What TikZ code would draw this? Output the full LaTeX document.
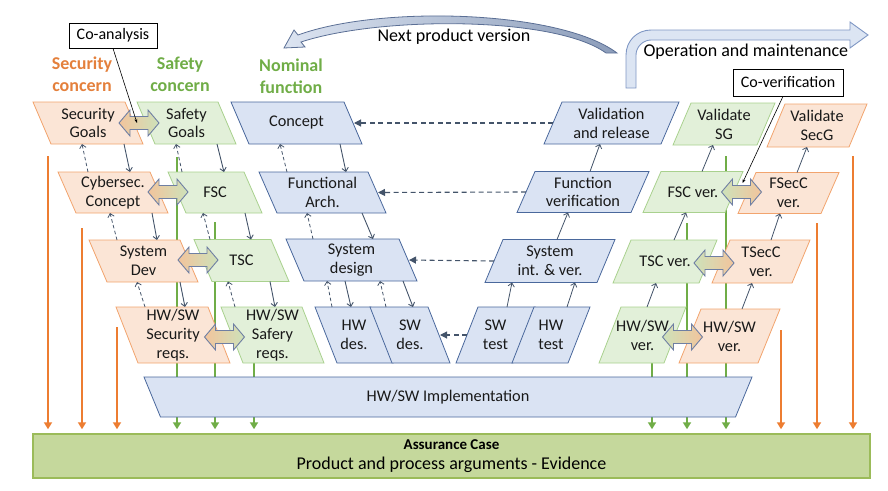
\documentclass[tikz,border=0pt]{standalone}
\usepackage{fontspec}
\setmainfont{Carlito}
\usetikzlibrary{arrows.meta,calc}

\definecolor{oFill}{HTML}{FBE5D6}
\definecolor{oLine}{HTML}{F2A46E}
\definecolor{gFill}{HTML}{E2F0D9}
\definecolor{gLine}{HTML}{A9D18E}
\definecolor{bFill}{HTML}{DAE3F3}
\definecolor{bLine}{HTML}{4A689C}
\definecolor{oDark}{HTML}{ED7D31}
\definecolor{gDark}{HTML}{70AD47}
\definecolor{oText}{HTML}{E4803C}
\definecolor{conn}{HTML}{44546A}
\definecolor{acFill}{HTML}{C5D89C}
\definecolor{acLine}{HTML}{9BBB59}
\definecolor{daLine}{HTML}{6F7FA3}
\definecolor{daO}{HTML}{F2C49C}
\definecolor{daG}{HTML}{CDE2BA}
\definecolor{npL}{HTML}{DCE4F1}
\definecolor{npR}{HTML}{8C9DBA}
\definecolor{npLine}{HTML}{5B6F95}
\definecolor{omFill}{HTML}{DCE5F3}
\definecolor{omLine}{HTML}{7F97C4}

\makeatletter
\newdimen\pgmA \newdimen\pgmB \newdimen\pgmC \newdimen\pgmD \newdimen\pgmS \newdimen\pgmF
\pgfkeys{/pgf/pgram slant/.initial=0pt, /pgf/pgram flare/.initial=0pt}
\pgfdeclareshape{pgram}{%
  \inheritsavedanchors[from=rectangle]%
  \inheritanchorborder[from=rectangle]%
  \inheritanchor[from=rectangle]{center}%
  \inheritanchor[from=rectangle]{north}%
  \inheritanchor[from=rectangle]{south}%
  \inheritanchor[from=rectangle]{east}%
  \inheritanchor[from=rectangle]{west}%
  \inheritanchor[from=rectangle]{north east}%
  \inheritanchor[from=rectangle]{north west}%
  \inheritanchor[from=rectangle]{south east}%
  \inheritanchor[from=rectangle]{south west}%
  \backgroundpath{%
    \pgfmathsetlength\pgmS{0.5*(\pgfkeysvalueof{/pgf/pgram slant})}%
    \pgfmathsetlength\pgmF{0.5*(\pgfkeysvalueof{/pgf/pgram flare})}%
    \southwest \pgmA=\pgf@x \pgmB=\pgf@y
    \northeast \pgmC=\pgf@x \pgmD=\pgf@y
    \pgfpathmoveto{\pgfqpoint{\dimexpr\pgmA-\pgmS-\pgmF\relax}{\pgmD}}%
    \pgfpathlineto{\pgfqpoint{\dimexpr\pgmC-\pgmS+\pgmF\relax}{\pgmD}}%
    \pgfpathlineto{\pgfqpoint{\dimexpr\pgmC+\pgmS-\pgmF\relax}{\pgmB}}%
    \pgfpathlineto{\pgfqpoint{\dimexpr\pgmA+\pgmS+\pgmF\relax}{\pgmB}}%
    \pgfpathclose
  }%
}
\makeatother

\tikzset{
  pgslant/.code={\pgfkeys{/pgf/pgram slant=#1}},
  pgflare/.code={\pgfkeys{/pgf/pgram flare=#1}},
  pbox/.style={shape=pgram, inner sep=1pt, outer sep=0pt, align=center,
    font=\fontsize{16.3}{18.8}\selectfont, line width=0.8pt, text=black!90},
  obox/.style={pbox, fill=oFill, draw=oLine},
  gbox/.style={pbox, fill=gFill, draw=gLine},
  bbox/.style={pbox, fill=bFill, draw=bLine},
  dsolid/.style={draw=conn, line width=0.9pt, -{Straight Barb[length=3.5pt,width=6.5pt]}},
  ddash/.style={draw=conn, line width=0.8pt, dash pattern=on 3.5pt off 2.5pt,
    -{Straight Barb[length=3.5pt,width=6.5pt]}},
  usolid/.style={draw=conn, line width=0.8pt, -{Straight Barb[length=3.5pt,width=6.5pt]}},
  hdash/.style={draw=conn, line width=1.1pt, dash pattern=on 5pt off 3.5pt,
    -{Triangle[length=7pt,width=7pt]}, shorten >=1pt},
  oarrow/.style={draw=oDark, line width=1.8pt, -{Triangle[length=7pt,width=8pt]}, shorten >=4pt},
  garrow/.style={draw=gDark, line width=1.8pt, -{Triangle[length=7pt,width=8pt]}, shorten >=4pt},
  dblarrow/.style={draw=daLine, line width=0.9pt, line join=miter},
  dlo/.style={dblarrow, left color=daO, right color=daG},
  dlg/.style={dblarrow, left color=daG, right color=daO},
  callout/.style={draw=black, fill=white, line width=0.8pt, inner sep=2pt,
    font=\fontsize{16}{18}\selectfont},
  callline/.style={draw=black, line width=0.6pt, -{Stealth[length=4pt,width=3pt]}},
  concern/.style={align=center, font=\bfseries\fontsize{18}{22}\selectfont},
  bigtext/.style={font=\fontsize{18}{21}\selectfont},
}
% double block arrow centred on a named coordinate
\newcommand\dblarr[2]{%
  \path[#2] ([xshift=-20pt]#1) -- ++(11,-13) -- ++(0,6.5) -- ++(18,0) -- ++(0,-6.5)
    -- ++(11,13) -- ++(-11,13) -- ++(0,-6.5) -- ++(-18,0) -- ++(0,6.5) -- cycle;}

\begin{document}
\begin{tikzpicture}[x=1pt, y=-1pt]
\useasboundingbox (0,0) rectangle (888,490);

% Assurance case
\node[draw=acLine, fill=acFill, line width=1.5pt, minimum width=837pt, minimum height=44pt,
  inner sep=0pt, align=center, font=\fontsize{18}{20}\selectfont] (ac) at (451.5,456)
  {{\bfseries\fontsize{15}{17}\selectfont Assurance Case}\\{\fontsize{18}{20}\selectfont Product and process arguments - Evidence}};

% long vertical arrows (behind boxes)
\coordinate (ol1) at (48,156);
\coordinate (ol2) at (82,228);
\coordinate (ol3) at (117,327);
\coordinate (or1) at (781,330);
\coordinate (or2) at (817,223);
\coordinate (or3) at (853,156);
\coordinate (gl1) at (177,157);
\coordinate (gl2) at (215,222);
\coordinate (gl3) at (254,363);
\coordinate (gr1) at (652,363);
\coordinate (gr2) at (687,223);
\coordinate (gr3) at (726,156);
\foreach \c in {ol1,ol2,ol3,or1,or2,or3}{\draw[oarrow] (\c) -- (\c |- ac.north);}
\foreach \c in {gl1,gl2,gl3,gr1,gr2,gr3}{\draw[garrow] (\c) -- (\c |- ac.north);}

% Row 1
\node[obox, pgslant=18pt, minimum width=92pt, minimum height=42pt] (secg) at (88,123) {Security\\Goals};
\node[gbox, pgslant=18pt, minimum width=81pt, minimum height=42pt] (safg) at (186.5,123) {Safety\\Goals};
\node[bbox, pgslant=18pt, minimum width=113pt, minimum height=42pt] (concept) at (296.5,123) {Concept};
\node[bbox, pgslant=-18pt, minimum width=117pt, minimum height=42pt] (valrel) at (611.5,123) {Validation\\and release};
\node[gbox, pgslant=-18pt, minimum width=84pt, minimum height=42pt] (valsg) at (724,124) {Validate\\SG};
\node[obox, pgslant=-18pt, minimum width=82pt, minimum height=43pt] (valsecg) at (817,125.5) {Validate\\SecG};

% Row 2
\node[obox, pgslant=18pt, minimum width=92pt, minimum height=41pt] (cyber) at (113,192.5) {Cybersec.\\Concept};
\node[gbox, pgslant=18pt, minimum width=76pt, minimum height=41pt] (fsc) at (215,192.5) {FSC};
\node[bbox, pgslant=18pt, minimum width=109pt, minimum height=41pt] (funarch) at (322.5,192.5) {Functional\\Arch.};
\node[bbox, pgslant=-18pt, minimum width=114pt, minimum height=41pt] (funver) at (583,192) {Function\\verification};
\node[gbox, pgslant=-18pt, minimum width=82pt, minimum height=41pt] (fscver) at (693,192) {FSC ver.};
\node[obox, pgslant=-18pt, minimum width=83pt, minimum height=41pt] (fsecver) at (788.5,193) {FSecC\\ver.};

% Row 3
\node[obox, pgslant=18pt, minimum width=91pt, minimum height=42pt] (sysdev) at (143.5,261) {System\\Dev};
\node[gbox, pgslant=18pt, minimum width=77pt, minimum height=42pt] (tsc) at (241.5,260.5) {TSC};
\node[bbox, pgslant=18pt, minimum width=113pt, minimum height=42pt] (sysdes) at (351.5,260) {System\\design};
\node[bbox, pgslant=-18pt, minimum width=112pt, minimum height=43pt] (sysint) at (550,261) {System\\int. \& ver.};
\node[gbox, pgslant=-18pt, minimum width=86pt, minimum height=43pt] (tscver) at (665,261.5) {TSC ver.};
\node[obox, pgslant=-18pt, minimum width=80pt, minimum height=43pt] (tsecver) at (761,261.5) {TSecC\\ver.};

% Row 4
\node[obox, pgslant=22pt, minimum width=92pt, minimum height=56pt] (secreq) at (173,335) {HW/SW\\Security\\reqs.};
\node[gbox, pgslant=22pt, minimum width=81pt, minimum height=56pt] (safreq) at (272.5,335) {HW/SW\\Safery\\reqs.};
\node[bbox, pgslant=22pt, minimum width=56pt, minimum height=56pt] (hwdes) at (354,335) {HW\\des.};
\node[bbox, pgslant=22pt, minimum width=58pt, minimum height=56pt] (swdes) at (410,335) {SW\\des.};
\node[bbox, pgslant=-22pt, minimum width=57pt, minimum height=56pt] (swtest) at (495.5,335) {SW\\test};
\node[bbox, pgslant=-22pt, minimum width=56pt, minimum height=56pt] (hwtest) at (551,335) {HW\\test};
\node[gbox, pgslant=-22pt, minimum width=65pt, minimum height=56pt] (hwswver) at (642.5,335) {HW/SW\\ver.};
\node[obox, pgslant=-22pt, minimum width=79pt, minimum height=54pt] (hwswver2) at (729.5,336) {HW/SW\\ver.};

% Implementation
\node[bbox, pgflare=16.5pt, minimum width=591.5pt, minimum height=40pt] (impl) at (448,397) {HW/SW Implementation};

% left hierarchy connectors
\draw[ddash] ([xshift=-25pt]cyber.north) -- ([xshift=-6pt]secg.south);
\draw[dsolid] ([xshift=36pt]secg.south) -- ([xshift=17pt]cyber.north);
\draw[ddash] ([xshift=-26.5pt]sysdev.north) -- ([xshift=-3pt]cyber.south);
\draw[dsolid] ([xshift=39pt]cyber.south) -- ([xshift=13.5pt]sysdev.north);
\draw[ddash] ([xshift=-28pt]secreq.north) -- ([xshift=-6.5pt]sysdev.south);
\draw[dsolid] ([xshift=36.5pt]sysdev.south) -- ([xshift=12pt]secreq.north);

\draw[ddash] ([xshift=-33pt]fsc.north) -- ([xshift=-10.5pt]safg.south);
\draw[dsolid] ([xshift=30.5pt]safg.south) -- ([xshift=9pt]fsc.north);
\draw[ddash] ([xshift=-31.5pt]tsc.north) -- ([xshift=-12pt]fsc.south);
\draw[dsolid] ([xshift=30pt]fsc.south) -- ([xshift=9.5pt]tsc.north);
\draw[ddash] ([xshift=-37.5pt]safreq.north) -- ([xshift=-13.5pt]tsc.south);
\draw[dsolid] ([xshift=28.5pt]tsc.south) -- ([xshift=2.5pt]safreq.north);

\draw[ddash] ([xshift=-35.5pt]funarch.north) -- ([xshift=-16.5pt]concept.south);
\draw[dsolid] ([xshift=43.5pt]concept.south) -- ([xshift=23.5pt]funarch.north);
\draw[ddash] ([xshift=-38.5pt]sysdes.north) -- ([xshift=-15.5pt]funarch.south);
\draw[dsolid] ([xshift=39.5pt]funarch.south) -- ([xshift=21.5pt]sysdes.north);
\draw[ddash] ([xshift=-22pt]hwdes.north) -- ([xshift=-24.5pt]sysdes.south);
\draw[dsolid] ([xshift=-6.5pt]sysdes.south) -- ([xshift=-3pt]hwdes.north);
\draw[ddash] ([xshift=-24pt]swdes.north) -- ([xshift=28.5pt]sysdes.south);
\draw[dsolid] ([xshift=51.5pt]sysdes.south) -- ([xshift=3pt]swdes.north);

% right verification connectors
\draw[usolid] ([xshift=11.5pt]swtest.north) -- ([xshift=-38pt]sysint.south);
\draw[usolid] ([xshift=16pt]hwtest.north) -- ([xshift=25pt]sysint.south);
\draw[usolid] ([xshift=7pt]sysint.north) -- ([xshift=-15pt]funver.south);
\draw[usolid] ([xshift=7pt]funver.north) -- ([xshift=-11.5pt]valrel.south);
\draw[usolid] ([xshift=4.5pt]hwswver.north) -- ([xshift=-9pt]tscver.south);
\draw[usolid] ([xshift=9pt]tscver.north) -- ([xshift=-7pt]fscver.south);
\draw[usolid] ([xshift=9pt]fscver.north) -- ([xshift=-11pt]valsg.south);
\draw[usolid] ([xshift=12.5pt]hwswver2.north) -- ([xshift=-9pt]tsecver.south);
\draw[usolid] ([xshift=10pt]tsecver.north) -- ([xshift=-8.5pt]fsecver.south);
\draw[usolid] ([xshift=8.5pt]fsecver.north) -- ([xshift=-10pt]valsecg.south);

% horizontal dashed
\draw[hdash] (valrel.west) -- (concept.east);
\draw[hdash] (funver.west) -- (funarch.east);
\draw[hdash] (sysint.west) -- (sysdes.east);
\draw[hdash] (swtest.west) -- (swdes.east);

% double arrows
\coordinate (da1) at (139,123);
\coordinate (da2) at (168,192);
\coordinate (da3) at (198,260);
\coordinate (da4) at (224.5,337);
\coordinate (da5) at (741.5,192);
\coordinate (da6) at (714,263);
\coordinate (da7) at (682.5,337);
\dblarr{da1}{dlo}
\dblarr{da2}{dlo}
\dblarr{da3}{dlo}
\dblarr{da4}{dlo}
\dblarr{da5}{dlg}
\dblarr{da6}{dlg}
\dblarr{da7}{dlg}

% callouts
\node[callout, minimum width=88pt, minimum height=25pt] (coan) at (113,35.5) {Co-analysis};
\draw[callline] (coan.south) -- ([xshift=-2pt]da1);
\node[callout, minimum width=110pt, minimum height=27pt] (coverif) at (788,82.5) {Co-verification};
\draw[callline] ([xshift=-5pt]coverif.south) -- ([xshift=1pt,yshift=9pt]da5);

% concern labels
\node[concern, text=oText] (lsec) at (82,74) {Security\\concern};
\node[concern, text=gDark] (lsaf) at (180,74) {Safety\\concern};
\node[concern, text=gDark] (lnom) at (291,76) {Nominal\\function};

% next product version arrow
\path[draw=npLine, line width=0.8pt, left color=npL, right color=npR]
  (617,53) .. controls (560,10) and (380,5) .. (298,35)
  -- (294,30) -- (284,48) -- (305,47) -- (301,42)
  .. controls (380,16) and (555,16) .. (606,53) -- cycle;
\node[bigtext] (npv) at (454,37) {Next product version};

% operation and maintenance arrow
\path[draw=omLine, fill=omFill, line width=0.9pt]
  (626,88) -- (626,55) .. controls (626,41) and (637,30) .. (651,30)
  -- (850,30) -- (850,22) -- (868,35) -- (850,48) -- (850,40) -- (651,40)
  .. controls (643,40) and (636,47) .. (636,55) -- (636,88) -- cycle;
\node[bigtext, anchor=west] (om) at (640,52) {Operation and maintenance};
\end{tikzpicture}
\end{document}
